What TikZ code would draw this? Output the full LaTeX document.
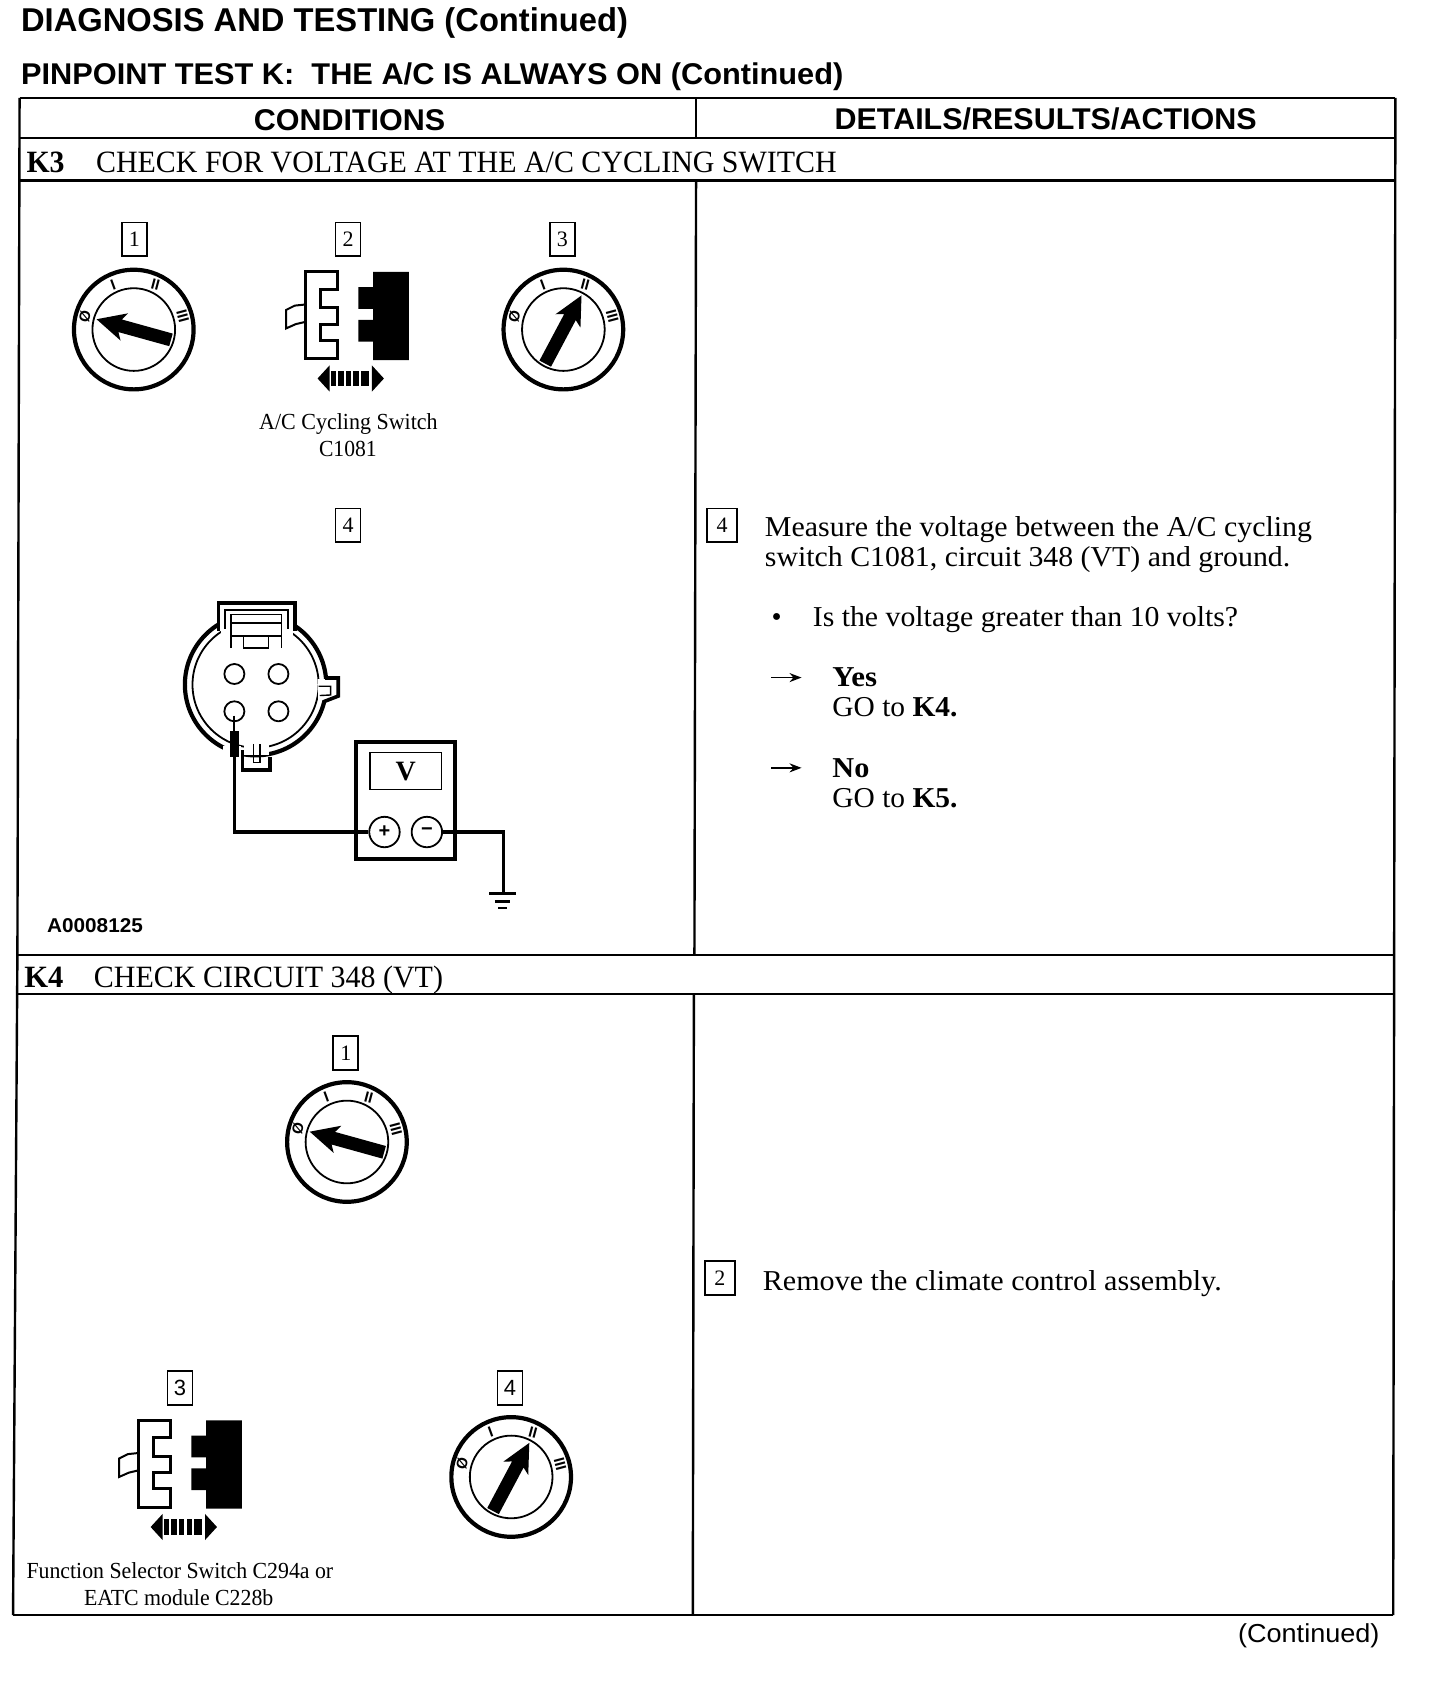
\documentclass[tikz,border=0pt]{standalone}
\usepackage{fontspec}
\usepackage{graphicx}
\setmainfont{Liberation Serif}
\setsansfont{Liberation Sans}
\usetikzlibrary{arrows.meta}
\newlength{\myu}\setlength{\myu}{0.5438pt}
\newcommand{\fw}[2]{\resizebox{#1\myu}{\height}{#2}}
\tikzset{
  txt/.style={anchor=base west,inner sep=0pt},
  ttl/.style={txt,font=\sffamily\bfseries\fontsize{16.5}{20}\selectfont},
  hdr/.style={txt,font=\sffamily\bfseries\fontsize{15}{18}\selectfont},
  sec/.style={txt,font=\fontsize{15.5}{18}\selectfont},
  secb/.style={txt,font=\bfseries\fontsize{15.5}{18}\selectfont},
  body/.style={txt,font=\fontsize{14.4}{17}\selectfont},
  bodyb/.style={txt,font=\bfseries\fontsize{14.4}{17}\selectfont},
  capt/.style={txt,font=\fontsize{11.5}{14}\selectfont},
  numbox/.style={draw,line width=0.9pt,inner sep=0pt,minimum width=23\myu,minimum height=31\myu,font=\fontsize{11}{13}\selectfont},
  numboxs/.style={numbox,font=\sffamily\fontsize{11}{13}\selectfont},
  numboxw/.style={numbox,minimum width=28\myu},
  tabrule/.style={line width=1.2pt},
  rim/.style={line width=2.1pt},
  hub/.style={line width=0.9pt},
  dialmark/.style={inner sep=0pt,font=\sffamily\bfseries\fontsize{7.5}{8}\selectfont},
  thickwire/.style={line width=1.7pt},
  termnode/.style={circle,draw,line width=0.9pt,fill=white,inner sep=0pt,minimum size=28\myu,font=\sffamily\bfseries\fontsize{10}{10}\selectfont},
  goarrow/.style={line width=0.9pt,-{Stealth[length=6pt,width=4.5pt]}}
}
% dial: centre x, y, arrow angle
\newcommand{\dial}[3]{%
  \begin{scope}[shift={(#1,#2)}]
    \draw[rim] (0,0) circle[radius=55];
    \draw[hub] (0,0) circle[radius=38];
    \node[dialmark,rotate=75] at (-45,-12) {Ø};
    \node[dialmark,rotate=20] at (-19,-41) {I};
    \node[dialmark,rotate=-15] at (20,-41) {II};
    \node[dialmark,rotate=-75] at (45,-12) {III};
    \fill[rotate=#3] (-35.5,-6) -- (13,-6) -- (9,-13) -- (35.5,0) -- (9,13) -- (13,6) -- (-35.5,6) -- cycle;
  \end{scope}}
% connector: dx, dy from K3 position
\newcommand{\plugpair}[2]{%
  \begin{scope}[shift={(#1,#2)}]
    \draw[line width=1.5pt,line join=miter] (280.5,250) -- (310,250) -- (310,266) -- (294.5,266) -- (294.5,283) -- (310,283) -- (310,298) -- (294.5,298) -- (294.5,313) -- (310,313) -- (310,330) -- (280.5,330) -- cycle;
    \draw[line width=1pt] (280.5,280) -- (271,281) -- (263,285) -- (263,302) -- (272,298) -- (280.5,296);
    \fill (343,250) -- (376,250) -- (376,331) -- (343,331) -- (343,314) -- (329.5,314) -- (329.5,294) -- (343,294) -- (343,284) -- (329.5,284) -- (329.5,264) -- (343,264) -- cycle;
    \fill (292,348) -- (303,336) -- (303,360) -- cycle;
    \fill (353,348) -- (342,336) -- (342,360) -- cycle;
    \fill (304,341) rectangle (309,355);
    \fill (311,341) rectangle (316,355);
    \fill (318,341) rectangle (323,355);
    \fill (325,341) rectangle (330,355);
    \fill (332,341) rectangle (339,355);
  \end{scope}}
\begin{document}
\begin{tikzpicture}[x=0.5438pt,y=-0.5438pt]
\useasboundingbox (0,0) rectangle (1324,1568.6);
% table
\draw[tabrule] (18,90) -- (1283,90);
\draw[tabrule] (18,127) -- (1283,127);
\draw[tabrule] (18,166) -- (1283,166);
\draw[tabrule] (16,878) -- (1282,878);
\draw[tabrule] (16,914) -- (1282,914);
\draw[tabrule] (12,1485) -- (1281,1485);
\draw[tabrule] (18,90) -- (16,878) -- (12,1485);
\draw[tabrule] (1283,90) -- (1281,1485);
\draw[tabrule] (640,90) -- (640,127);
\draw[tabrule] (640,166) -- (638.5,878);
\draw[tabrule] (638,914) -- (637,1485);
% titles
\node[ttl] (t1) at (19,29) {\fw{558}{DIAGNOSIS AND TESTING (Continued)}};
\node[hdr] (t2) at (19,78) {\fw{756}{PINPOINT TEST K:\ \ THE A/C IS ALWAYS ON (Continued)}};
\node[hdr] (h1) at (233,120) {\fw{176}{CONDITIONS}};
\node[hdr] (h2) at (767,119) {\fw{388}{DETAILS/RESULTS/ACTIONS}};
\node[secb] (k3) at (24,159) {\fw{35}{K3}};
\node[sec] (k3t) at (88,159) {\fw{681}{CHECK FOR VOLTAGE AT THE A/C CYCLING SWITCH}};
\node[secb] (k4) at (22,908) {\fw{36}{K4}};
\node[sec] (k4t) at (86,908) {\fw{321}{CHECK CIRCUIT 348 (VT)}};
% K3 left
\node[numbox] (a1) at (123.5,220) {1};
\node[numbox] (a2) at (320,220) {2};
\node[numbox] (a3) at (517,220) {3};
\node[numbox] (a4) at (320,483) {4};
\dial{123}{303}{164.5}
\plugpair{0}{0}
\dial{518}{303}{62}
\node[capt] (c1) at (238,395) {\fw{164}{A/C Cycling Switch}};
\node[capt] (c2) at (293,420) {\fw{53}{C1081}};
% electrical connector
\draw[rim] (235,629.5) circle[radius=65];
\draw[hub] (235,629.5) circle[radius=58];
\filldraw[fill=white,draw=none] (203,556) rectangle (269,586);
\draw[line width=1.8pt,fill=white] (201,580) -- (201,554.5) -- (271,554.5) -- (271,580);
\draw[hub] (207,578) -- (207,560.6) -- (265,560.6) -- (265,578);
\draw[line width=0.8pt] (212.5,596) -- (212.5,565) -- (259,565) -- (259,596);
\draw[line width=0.8pt] (212.5,573) -- (259,573);
\draw[line width=0.8pt] (212.5,585) -- (259,585);
\draw[line width=0.8pt] (224,585) -- (224,596) -- (247,596) -- (247,585);
\fill[white] (292,624.5) rectangle (303,644);
\draw[line width=1.8pt] (299,623.4) -- (311,623.4) -- (311,640) -- (298,645);
\draw[line width=0.7pt] (293,631) -- (304,631) -- (304,639) -- (294,639.5);
\fill[white] (224,683) rectangle (247,694);
\draw[line width=1.8pt] (223,690) -- (223,708) -- (248,708) -- (248,696);
\draw[line width=0.7pt] (233,684) -- (233,701) -- (239,701) -- (239,684);
\draw[hub] (215.5,619.7) circle[radius=9.2];
\draw[hub] (256,619.7) circle[radius=9.2];
\draw[hub] (215.5,654) circle[radius=9.2];
\draw[hub] (256,654) circle[radius=9.2];
\fill[white] (205,686) rectangle (222,699);
\draw[line width=1pt] (215.5,658) -- (215.5,675);
\node[fill=black,inner sep=0pt,minimum width=8\myu,minimum height=24\myu] (probe) at (215.5,684) {};
% meter
\node[draw,line width=1.8pt,inner sep=0pt,minimum width=91\myu,minimum height=108\myu] (meter) at (373,736) {};
\node[draw,line width=0.8pt,inner sep=0pt,minimum width=66\myu,minimum height=34\myu,font=\bfseries\fontsize{14}{15}\selectfont] (disp) at (373,709) {V};
\node[termnode] (plus) at (353.5,765) {+};
\node[termnode] (minus) at (392.5,765) {−};
\coordinate (gnd) at (463,821.7);
\draw[thickwire] (probe.south) |- (plus.west);
\draw[thickwire] (minus.east) -| (gnd);
\draw[thickwire] (450,821.7) -- (474,821.7);
\draw[line width=1.2pt] (455,829) -- (469,829);
\draw[line width=1.2pt] (458.3,835) -- (466,835);
\node[txt,font=\sffamily\bfseries\fontsize{10}{12}\selectfont] (ref) at (43,857) {\fw{88}{A0008125}};
% K3 right
\node[numboxw] (b4) at (664,483) {4};
\node[body] (m1) at (703,493) {\fw{503}{Measure the voltage between the A/C cycling}};
\node[body] (m2) at (703,521) {\fw{483}{switch C1081, circuit 348 (VT) and ground.}};
\node[body,anchor=center] (bul) at (714,570) {•};
\node[body] (m3) at (747,576) {\fw{391}{Is the voltage greater than 10 volts?}};
\coordinate (ya) at (709,623);
\coordinate (yb) at (737,623);
\draw[goarrow] (ya) -- (yb);
\node[bodyb] (y1) at (765,631) {\fw{41}{Yes}};
\node[body] (y2) at (765,659) {\fw{115}{GO to \textbf{K4.}}};
\coordinate (na) at (709,706);
\coordinate (nb) at (737,706);
\draw[goarrow] (na) -- (nb);
\node[bodyb] (n1) at (765,715) {\fw{34}{No}};
\node[body] (n2) at (765,742) {\fw{115}{GO to \textbf{K5.}}};
% K4 left
\node[numbox] (d1) at (318,968) {1};
\dial{319}{1050}{164.5}
\node[numboxs] (d3) at (165.5,1276) {3};
\node[numboxs] (d4) at (469,1276) {4};
\plugpair{-153.5}{1056}
\dial{470}{1358}{62}
\node[capt] (f1) at (24,1451) {\fw{282}{Function Selector Switch C294a or}};
\node[capt] (f2) at (77,1476) {\fw{174}{EATC module C228b}};
% K4 right
\node[numboxw] (e2) at (662,1175) {2};
\node[body] (r1) at (701,1187) {\fw{422}{Remove the climate control assembly.}};
% footer
\node[txt,font=\sffamily\fontsize{13}{15}\selectfont] (cont) at (1138,1510) {\fw{130}{(Continued)}};
\end{tikzpicture}
\end{document}
